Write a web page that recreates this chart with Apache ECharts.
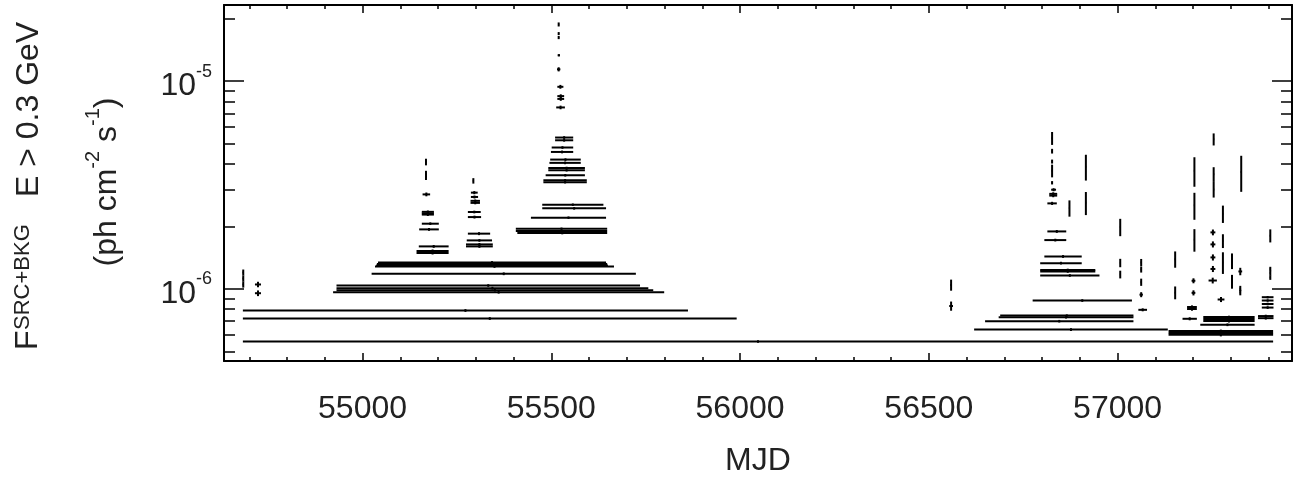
<!DOCTYPE html>
<html><head><meta charset="utf-8">
<script src="https://cdn.jsdelivr.net/npm/echarts@6/dist/echarts.min.js"></script>
<style>html,body{margin:0;padding:0;background:#fff}#c{width:1305px;height:478px}</style>
</head><body><div id="c"></div>
<script>
// Bin start / stop (MJD), flux and 1-sigma flux error (ph cm^-2 s^-1)
const binStart = [
54682,54682,54682,54715,54715,54683,54683,54683,54931,54931,54931,54922,55024,55041,55038,55036,55033,
55149,55143,55143,55150,55157,55157,55157,55157,55159,55167,55167,55167,55167,
55274,55274,55276,55279,55279,55279,55286,55286,55287,55287,55292,
55406,55406,55410,55446,55476,55476,55479,55479,55485,55492,55492,55495,55497,55499,55501,55510,55510,
55513,55516,55516,55516,55515,55517,55518,55518,55518,
56557,56554,56620,56649,56689,56685,56775,56795,56795,56795,56795,56806,56806,56814,56814,56819,56819,
56824,56825,56825,56825,56825,56825,56871,56915,56915,57006,57006,57006,57061,57061,57061,57058,57055,
57151,57151,57202,57202,57202,57196,57196,57184,57184,57172,57253,57253,57253,57246,57246,57246,57246,
57241,57265,57278,57278,57278,57302,57302,57326,57320,57323,57323,57403,57403,57403,57403,
57382,57382,57382,57382,57372,57372,57227,57227,57227,57219,57135,57135,57135
];
const binStop = [
54686,54686,54686,54731,54731,57412,55862,55991,55735,55757,55770,55799,55724,55645,55648,55650,55666,
55228,55228,55228,55202,55202,55189,55189,55189,55179,55169,55169,55169,55169,
55345,55345,55343,55338,55314,55313,55311,55311,55306,55305,55295,
55648,55648,55648,55645,55645,55638,55594,55594,55589,55589,55589,55578,55578,55558,55558,55558,55558,
55536,55534,55534,55532,55524,55523,55521,55521,55521,
56561,56564,57133,57042,57042,57042,57038,56952,56941,56941,56905,56905,56864,56864,56839,56840,56840,
56837,56828,56828,56828,56828,56828,56874,56917,56917,57008,57008,57008,57064,57064,57064,57067,57078,
57154,57154,57205,57205,57205,57206,57206,57210,57210,57210,57256,57256,57256,57259,57259,57259,57259,
57263,57283,57280,57280,57280,57304,57304,57329,57330,57327,57327,57406,57406,57406,57406,
57413,57413,57413,57413,57413,57413,57363,57363,57363,57363,57412,57412,57412
];
const flux = [
1.198e-6,1.121e-6,1.049e-6,1.049e-6,0.952e-6,5.57e-7,7.86e-7,7.19e-7,1.037e-6,1.007e-6,0.985e-6,0.963e-6,1.181e-6,1.339e-6,1.317e-6,1.295e-6,1.281e-6,
1.600e-6,1.521e-6,1.488e-6,1.932e-6,2.058e-6,2.347e-6,2.307e-6,2.277e-6,2.848e-6,3.62e-6,3.52e-6,3.42e-6,4.08e-6,
1.636e-6,1.600e-6,1.710e-6,1.843e-6,2.215e-6,2.343e-6,2.651e-6,2.592e-6,2.768e-6,2.904e-6,3.31e-6,
1.947e-6,1.900e-6,1.854e-6,2.20e-6,2.44e-6,2.54e-6,3.33e-6,3.26e-6,3.52e-6,3.72e-6,3.82e-6,4.04e-6,4.19e-6,4.56e-6,4.79e-6,5.19e-6,5.35e-6,
7.47e-6,8.21e-6,8.47e-6,9.39e-6,1.140e-5,1.332e-5,1.621e-5,1.694e-5,1.875e-5,
1.043e-6,0.826e-6,6.36e-7,6.98e-7,7.43e-7,7.29e-7,8.78e-7,1.159e-6,1.232e-6,1.212e-6,1.329e-6,1.431e-6,1.716e-6,1.889e-6,2.578e-6,2.865e-6,2.810e-6,
3.00e-6,3.24e-6,5.31e-6,4.60e-6,4.10e-6,3.70e-6,2.445e-6,3.87e-6,2.594e-6,1.982e-6,1.332e-6,1.172e-6,1.339e-6,1.239e-6,1.076e-6,0.937e-6,0.792e-6,
1.388e-6,0.958e-6,3.70e-6,2.524e-6,1.723e-6,1.093e-6,0.956e-6,0.817e-6,0.799e-6,0.717e-6,5.25e-6,3.56e-6,3.01e-6,1.869e-6,1.636e-6,1.416e-6,1.246e-6,
1.096e-6,0.888e-6,2.295e-6,1.701e-6,1.339e-6,1.362e-6,1.084e-6,3.65e-6,1.212e-6,1.003e-6,0.960e-6,1.802e-6,1.246e-6,1.192e-6,1.134e-6,
0.911e-6,0.878e-6,0.845e-6,0.812e-6,0.739e-6,0.722e-6,0.731e-6,0.715e-6,0.699e-6,0.671e-6,0.626e-6,0.612e-6,0.600e-6
];
const fluxErr = [
0.040e-6,0.038e-6,0.036e-6,0.032e-6,0.030e-6,0.08e-7,0.12e-7,0.11e-7,0.015e-6,0.015e-6,0.015e-6,0.015e-6,0.018e-6,0.02e-6,0.02e-6,0.02e-6,0.02e-6,
0.025e-6,0.025e-6,0.025e-6,0.03e-6,0.03e-6,0.035e-6,0.035e-6,0.035e-6,0.06e-6,0.08e-6,0.08e-6,0.08e-6,0.15e-6,
0.025e-6,0.025e-6,0.025e-6,0.03e-6,0.035e-6,0.035e-6,0.04e-6,0.04e-6,0.045e-6,0.05e-6,0.10e-6,
0.025e-6,0.025e-6,0.025e-6,0.03e-6,0.035e-6,0.035e-6,0.045e-6,0.045e-6,0.05e-6,0.05e-6,0.05e-6,0.06e-6,0.06e-6,0.07e-6,0.07e-6,0.08e-6,0.08e-6,
0.15e-6,0.17e-6,0.17e-6,0.20e-6,0.026e-5,0.015e-5,0.028e-5,0.028e-5,0.042e-5,
0.064e-6,0.042e-6,0.10e-7,0.10e-7,0.10e-7,0.10e-7,0.13e-7,0.017e-6,0.018e-6,0.018e-6,0.02e-6,0.022e-6,0.026e-6,0.03e-6,0.045e-6,0.05e-6,0.05e-6,
0.05e-6,0.06e-6,0.38e-6,0.12e-6,0.09e-6,0.26e-6,0.22e-6,0.55e-6,0.33e-6,0.19e-6,0.062e-6,0.05e-6,0.053e-6,0.042e-6,0.043e-6,0.026e-6,0.013e-6,
0.125e-6,0.068e-6,0.60e-6,0.375e-6,0.214e-6,0.03e-6,0.027e-6,0.015e-6,0.015e-6,0.012e-6,0.35e-6,0.29e-6,0.26e-6,0.06e-6,0.055e-6,0.048e-6,0.042e-6,
0.035e-6,0.025e-6,0.22e-6,0.13e-6,0.16e-6,0.118e-6,0.083e-6,0.72e-6,0.05e-6,0.03e-6,0.03e-6,0.13e-6,0.03e-6,0.03e-6,0.03e-6,
0.012e-6,0.012e-6,0.012e-6,0.012e-6,0.011e-6,0.011e-6,0.011e-6,0.011e-6,0.011e-6,0.010e-6,0.010e-6,0.010e-6,0.010e-6
];
const xMajorTicks = [55000, 55500, 56000, 56500, 57000];
const xMinorTicks = [54700,54800,54900,55100,55200,55300,55400,55600,55700,55800,55900,
  56100,56200,56300,56400,56600,56700,56800,56900,57100,57200,57300,57400];
const yMajorTicks = [1e-6, 1e-5];
const yMinorTicks = [5e-7,6e-7,7e-7,8e-7,9e-7,2e-6,3e-6,4e-6,5e-6,6e-6,7e-6,8e-6,9e-6,2e-5];
const xMin = 54633, xMax = 57462;
const yMin = 4.49e-7, yMax = 2.326e-5;

const FONT = '"Liberation Sans", Arial, Helvetica, sans-serif';
const TXT = '#222';
const chart = echarts.init(document.getElementById('c'), null, {renderer: 'canvas'});

const points = binStart.map((s, i) => [s, binStop[i], flux[i], flux[i] - fluxErr[i], flux[i] + fluxErr[i]]);

function xAx(pos, ticks, len, showLine, labels) {
  return {
    type: 'value', min: xMin, max: xMax, position: pos, gridIndex: 0,
    axisLine: {show: showLine, onZero: false, lineStyle: {color: '#000', width: 2}},
    axisTick: {show: true, inside: true, length: len, customValues: ticks, lineStyle: {color: '#000', width: 1.5}},
    axisLabel: labels ? {show: true, customValues: ticks, margin: 32, fontSize: 32, fontFamily: FONT, color: TXT,
                         formatter: v => String(v)}
                      : {show: false},
    splitLine: {show: false}
  };
}
function yAx(pos, ticks, len, showLine, labels) {
  return {
    type: 'log', logBase: 10, min: yMin, max: yMax, position: pos, gridIndex: 0,
    axisLine: {show: showLine, onZero: false, lineStyle: {color: '#000', width: 2}},
    axisTick: {show: true, inside: true, length: len, customValues: ticks, lineStyle: {color: '#000', width: 1.5}},
    axisLabel: labels ? {
      show: true, customValues: ticks, margin: 12, padding: [11, 0, 0, 0],
      formatter: v => '{b|10}{s|' + Math.round(Math.log10(v)) + '}',
      rich: {
        b: {fontSize: 32, lineHeight: 48, fontFamily: FONT, color: TXT},
        s: {fontSize: 18, lineHeight: 18, verticalAlign: 'top', fontFamily: FONT, color: TXT}
      }
    } : {show: false},
    splitLine: {show: false}
  };
}

chart.setOption({
  animation: false,
  backgroundColor: '#fff',
  grid: {left: 224, top: 5, width: 1068, height: 356, containLabel: false, outerBoundsMode: 'none'},
  xAxis: [
    Object.assign(xAx('bottom', xMajorTicks, 8, true, true), {
      name: 'MJD', nameLocation: 'middle', nameGap: 84,
      nameTextStyle: {fontSize: 32, fontFamily: FONT, color: TXT}
    }),
    xAx('bottom', xMinorTicks, 4, false, false),
    xAx('top', xMajorTicks, 8, true, false),
    xAx('top', xMinorTicks, 4, false, false)
  ],
  yAxis: [
    yAx('left', yMajorTicks, 20, true, true),
    yAx('left', yMinorTicks, 11, false, false),
    yAx('right', yMajorTicks, 20, true, false),
    yAx('right', yMinorTicks, 11, false, false)
  ],
  graphic: [
    {type: 'text', x: 28.5, y: 350, rotation: Math.PI / 2,
     style: {text: 'F', font: '32px ' + FONT, fill: TXT, align: 'left', verticalAlign: 'middle'}},
    {type: 'text', x: 22.5, y: 330, rotation: Math.PI / 2,
     style: {text: 'SRC+BKG', font: '22px ' + FONT, fill: TXT, align: 'left', verticalAlign: 'middle'}},
    {type: 'text', x: 29.5, y: 197, rotation: Math.PI / 2,
     style: {text: 'E > 0.3 GeV', font: '32px ' + FONT, fill: TXT, align: 'left', verticalAlign: 'middle'}},
    {type: 'text', x: 107, y: 182, rotation: Math.PI / 2,
     style: {text: '{b|(ph cm}{s|-2}{b| s}{s|-1}{b|)}', align: 'center', verticalAlign: 'middle',
       rich: {
         b: {fontSize: 32, lineHeight: 48, fontFamily: FONT, fill: TXT, color: TXT},
         s: {fontSize: 20, lineHeight: 16, verticalAlign: 'top', fontFamily: FONT, fill: TXT, color: TXT}
       }}}
  ],
  series: [{
    type: 'custom',
    xAxisIndex: 0, yAxisIndex: 0,
    encode: {x: [0, 1], y: [2, 3, 4]},
    data: points,
    renderItem: function (params, api) {
      const x0 = api.value(0), x1 = api.value(1), f = api.value(2), lo = api.value(3), hi = api.value(4);
      const xc = (x0 + x1) / 2;
      const a = api.coord([x0, f]), b = api.coord([x1, f]);
      const l = api.coord([xc, lo]), h = api.coord([xc, hi]);
      const st = {stroke: '#000', lineWidth: 2, fill: null};
      return {type: 'group', children: [
        {type: 'line', shape: {x1: a[0], y1: a[1], x2: b[0], y2: b[1]}, style: st},
        {type: 'line', shape: {x1: l[0], y1: l[1], x2: h[0], y2: h[1]}, style: st}
      ]};
    }
  }]
});
</script>
</body></html>
